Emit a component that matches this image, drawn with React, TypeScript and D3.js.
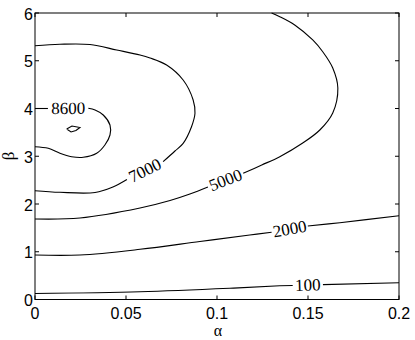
import React from 'react';
import * as d3 from 'd3';

// contour lines, [alpha, beta]; each level is split into
// segments, a label sits in the gap between one segment and the next
const levels = ['100', '2000', '5000', '7000', '8600'];

const c100 = [
  [[0, 0.126], [0.0577, 0.163], [0.1071, 0.235], [0.1345, 0.287], [0.1416, 0.293]],
  [[0.1582, 0.312], [0.2, 0.352]],
];

const c2000 = [
  [[0, 0.932], [0.0247, 0.932], [0.0577, 1.051], [0.0906, 1.215], [0.118, 1.351], [0.13, 1.407]],
  [[0.1499, 1.539], [0.1675, 1.608], [0.2, 1.755]],
];

const c5000 = [
  [[0, 1.686], [0.0247, 1.707], [0.0577, 1.916], [0.0742, 2.073], [0.0851, 2.209], [0.095, 2.356]],
  [[0.1144, 2.643], [0.1246, 2.817], [0.1345, 2.991], [0.1471, 3.277], [0.1565, 3.55], [0.1636, 3.906],
    [0.1664, 4.429], [0.1636, 4.848], [0.1582, 5.183], [0.1526, 5.435], [0.1427, 5.749], [0.1345, 5.923], [0.13, 6]],
];

const c7000 = [
  [[0, 2.279], [0.0137, 2.245], [0.033, 2.241], [0.0428, 2.356], [0.0505, 2.513]],
  [[0.0704, 2.886], [0.0769, 3.11], [0.0814, 3.271], [0.086, 3.619], [0.0879, 3.899], [0.0869, 4.178],
    [0.0814, 4.597], [0.0723, 4.911], [0.0632, 5.058], [0.0577, 5.12], [0.0449, 5.225], [0.0302, 5.34],
    [0.0137, 5.345], [0, 5.315]],
];

const c8600 = [
  [[0, 4.0], [0.0071, 4.0]],
  [[0.0293, 4.004], [0.033, 3.969], [0.0375, 3.864], [0.0412, 3.654], [0.0412, 3.445], [0.0384, 3.236],
    [0.0339, 3.062], [0.0265, 2.978], [0.0201, 2.991], [0.0137, 3.062], [0.0073, 3.166], [0, 3.2]],
];

// small unlabelled closed loop near the peak
const peak = [[0.0174, 3.571], [0.0203, 3.634], [0.0247, 3.602], [0.0225, 3.539], [0.0198, 3.508], [0.0174, 3.571]];

const contours = [c100, c2000, c5000, c7000, c8600];

const xTicks = [0, 0.05, 0.1, 0.15, 0.2];
const xTickLabels = ['0', '0.05', '0.1', '0.15', '0.2'];
const yTicks = [0, 1, 2, 3, 4, 5, 6];

const W = 415;
const H = 340;

export default function App() {
  const x = d3.scaleLinear().domain([0, 0.2]).range([35, 399]);
  const y = d3.scaleLinear().domain([0, 6]).range([299.5, 13]);

  const line = d3.line<number[]>()
    .x(d => x(d[0]))
    .y(d => y(d[1]))
    .curve(d3.curveCatmullRom.alpha(0.5));

  const sans = 'Liberation Sans, Arial, sans-serif';
  const serif = 'Liberation Serif, Times New Roman, serif';

  const labels = contours.map((segs, i) => {
    const a = segs[0][segs[0].length - 1];
    const b = segs[1][0];
    const x0 = x(a[0]), y0 = y(a[1]), x1 = x(b[0]), y1 = y(b[1]);
    const ang = Math.atan2(y1 - y0, x1 - x0) * 180 / Math.PI;
    return { text: levels[i], cx: (x0 + x1) / 2, cy: (y0 + y1) / 2, ang };
  });

  return (
    <svg width={W} height={H} style={{ position: 'absolute', left: 0, top: 0, background: '#fff' }}>
      <rect width={W} height={H} fill="#fff" />
      <g fill="none" stroke="#000" strokeWidth={1.1}>
        {contours.map((segs, i) => segs.map((s, j) => (
          <path key={`${i}-${j}`} d={line(s) || ''} />
        )))}
        <path d={d3.line<number[]>().x(d => x(d[0])).y(d => y(d[1]))(peak) || ''} />
      </g>
      {labels.map(l => (
        <text key={l.text} x={l.cx} y={l.cy} fontFamily={serif} fontSize={17}
          textAnchor="middle" dominantBaseline="central"
          transform={`rotate(${l.ang},${l.cx},${l.cy})`}>{l.text}</text>
      ))}

      {/* axes box */}
      <rect x={x(0)} y={y(6)} width={x(0.2) - x(0)} height={y(0) - y(6)} fill="none" stroke="#000" strokeWidth={1} />
      <g stroke="#000" strokeWidth={1}>
        {xTicks.map(t => (
          <g key={t}>
            <line x1={x(t)} x2={x(t)} y1={y(0)} y2={y(0) - 4} />
            <line x1={x(t)} x2={x(t)} y1={y(6)} y2={y(6) + 4} />
          </g>
        ))}
        {yTicks.map(t => (
          <g key={t}>
            <line x1={x(0)} x2={x(0) + 4} y1={y(t)} y2={y(t)} />
            <line x1={x(0.2)} x2={x(0.2) - 4} y1={y(t)} y2={y(t)} />
          </g>
        ))}
      </g>
      {xTicks.map((t, i) => (
        <text key={t} x={x(t)} y={318.5} fontFamily={sans} fontSize={16} textAnchor="middle">{xTickLabels[i]}</text>
      ))}
      {yTicks.map(t => (
        <text key={t} x={33} y={y(t) + 1} fontFamily={sans} fontSize={16} textAnchor="end" dominantBaseline="central">{t}</text>
      ))}
      <text x={218} y={336} fontFamily={serif} fontSize={16} textAnchor="middle">α</text>
      <text x={14} y={156} fontFamily={serif} fontSize={17} textAnchor="middle" transform="rotate(-90,14,156)">β</text>
    </svg>
  );
}
